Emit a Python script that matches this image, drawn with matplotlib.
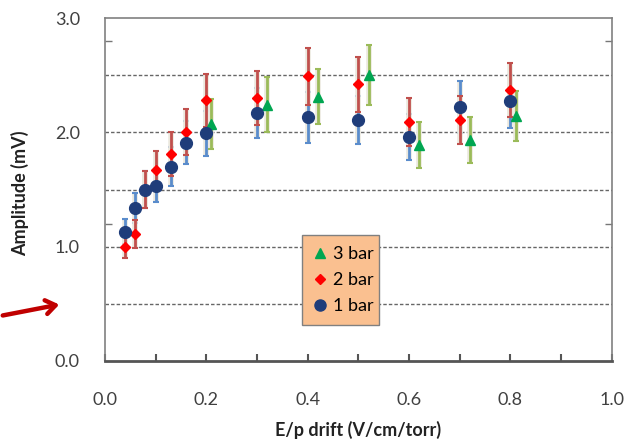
import numpy as np
import matplotlib
matplotlib.use("Agg")
import matplotlib.pyplot as plt
import matplotlib.patheffects as pe
from matplotlib.lines import Line2D

plt.rcParams['font.family'] = ['Lato', 'DejaVu Sans']

# 1 bar
x1 = [0.04, 0.06, 0.08, 0.10, 0.13, 0.16, 0.20, 0.30, 0.40, 0.50, 0.60, 0.70, 0.80]
y1 = [1.13, 1.34, 1.50, 1.53, 1.70, 1.91, 1.99, 2.17, 2.13, 2.11, 1.96, 2.22, 2.27]
e1 = [0.11, 0.13, 0.16, 0.14, 0.17, 0.19, 0.20, 0.22, 0.22, 0.21, 0.20, 0.23, 0.23]

# 2 bar
x2 = [0.04, 0.06, 0.08, 0.10, 0.13, 0.16, 0.20, 0.30, 0.40, 0.50, 0.60, 0.70, 0.80]
y2 = [1.00, 1.11, 1.50, 1.67, 1.81, 2.00, 2.28, 2.30, 2.49, 2.42, 2.09, 2.11, 2.37]
e2 = [0.10, 0.12, 0.16, 0.17, 0.19, 0.20, 0.23, 0.24, 0.25, 0.24, 0.21, 0.21, 0.24]

# 3 bar
x3 = [0.21, 0.32, 0.42, 0.52, 0.62, 0.72, 0.81]
y3 = [2.07, 2.24, 2.31, 2.50, 1.89, 1.93, 2.14]
e3 = [0.22, 0.24, 0.24, 0.26, 0.20, 0.20, 0.22]

fig = plt.figure(figsize=(6.36, 4.46), dpi=100)
ax = fig.add_axes([0.165, 0.1906, 0.797, 0.769])

glow = [pe.withStroke(linewidth=4, foreground='#ebe8de')]

def bars(x, y, e, col):
    eb = ax.errorbar(x, y, yerr=e, fmt='none', ecolor=col, elinewidth=2,
                     capsize=2, capthick=1.5, zorder=3)
    for c in eb[2]:
        c.set_path_effects(glow)

bars(x1, y1, e1, '#5a8ccc')
bars(x2, y2, e2, '#c0504d')
bars(x3, y3, e3, '#9bbb59')

ax.plot(x3, y3, ls='none', marker='^', ms=7, color='#00a651', zorder=4)
ax.plot(x2, y2, ls='none', marker='D', ms=5.5, color='#ff0000', zorder=5)
ax.plot(x1, y1, ls='none', marker='o', ms=8.5, color='#1f3d7a', zorder=6)

ax.set_xlim(0, 1.0)
ax.set_ylim(0, 3.0)
ax.set_xticks(np.arange(0, 1.01, 0.2))
ax.set_xticks(np.arange(0.1, 1.0, 0.2), minor=True)
ax.set_yticks(np.arange(0, 3.01, 1.0))
ax.set_yticks([1.2, 2.8], minor=True)
ax.xaxis.set_major_formatter(matplotlib.ticker.FormatStrFormatter('%.1f'))
ax.yaxis.set_major_formatter(matplotlib.ticker.FormatStrFormatter('%.1f'))

for g in [0.5, 1.0, 1.5, 2.0, 2.5]:
    ax.axhline(g, color='#666666', lw=1, ls=(0, (2.5, 1.5)), zorder=1)

ax.tick_params(axis='x', which='both', direction='in', length=5, width=1.5,
               color='#555555', pad=22, labelsize=13, labelcolor='#404040')
ax.tick_params(axis='y', which='both', direction='in', length=5, width=1,
               color='#777777', pad=18, labelsize=13, labelcolor='#404040',
               right=True)
ax.tick_params(axis='y', which='major', length=0)

for s in ['top', 'right', 'left']:
    ax.spines[s].set_color('#808080')
    ax.spines[s].set_linewidth(1.2)
ax.spines['bottom'].set_color('#555555')
ax.spines['bottom'].set_linewidth(2)

ax.set_xlabel('E/p drift (V/cm/torr)', fontsize=13, fontweight='bold', color='#222222')
ax.set_ylabel('Amplitude (mV)', fontsize=13, fontweight='bold', color='#222222')
ax.xaxis.set_label_coords(0.5, -0.175)
ax.yaxis.set_label_coords(-0.15, 0.49)

handles = [
    Line2D([], [], ls='none', marker='^', ms=7, color='#00a651'),
    Line2D([], [], ls='none', marker='D', ms=5.5, color='#ff0000'),
    Line2D([], [], ls='none', marker='o', ms=8, color='#1f3d7a'),
]
leg = ax.legend(handles, ['3 bar', '2 bar', '1 bar'], loc='lower left',
                bbox_to_anchor=(0.389, 0.105, 0.152, 0.275), mode='expand',
                fontsize=13, frameon=True, fancybox=False, handlelength=0.8,
                handletextpad=0.3, labelspacing=0.55, borderpad=0.6,
                borderaxespad=0)
leg.get_frame().set_facecolor('#fac090')
leg.get_frame().set_edgecolor('#808080')
leg.get_frame().set_alpha(1)
leg.set_zorder(10)

ax.annotate('', xy=(62, 142), xytext=(0, 130), xycoords='figure pixels',
            textcoords='figure pixels',
            arrowprops=dict(arrowstyle='->,head_length=0.7,head_width=0.5',
                            lw=3.2, color='#c00000'))

fig.savefig('out.png', dpi=100)
